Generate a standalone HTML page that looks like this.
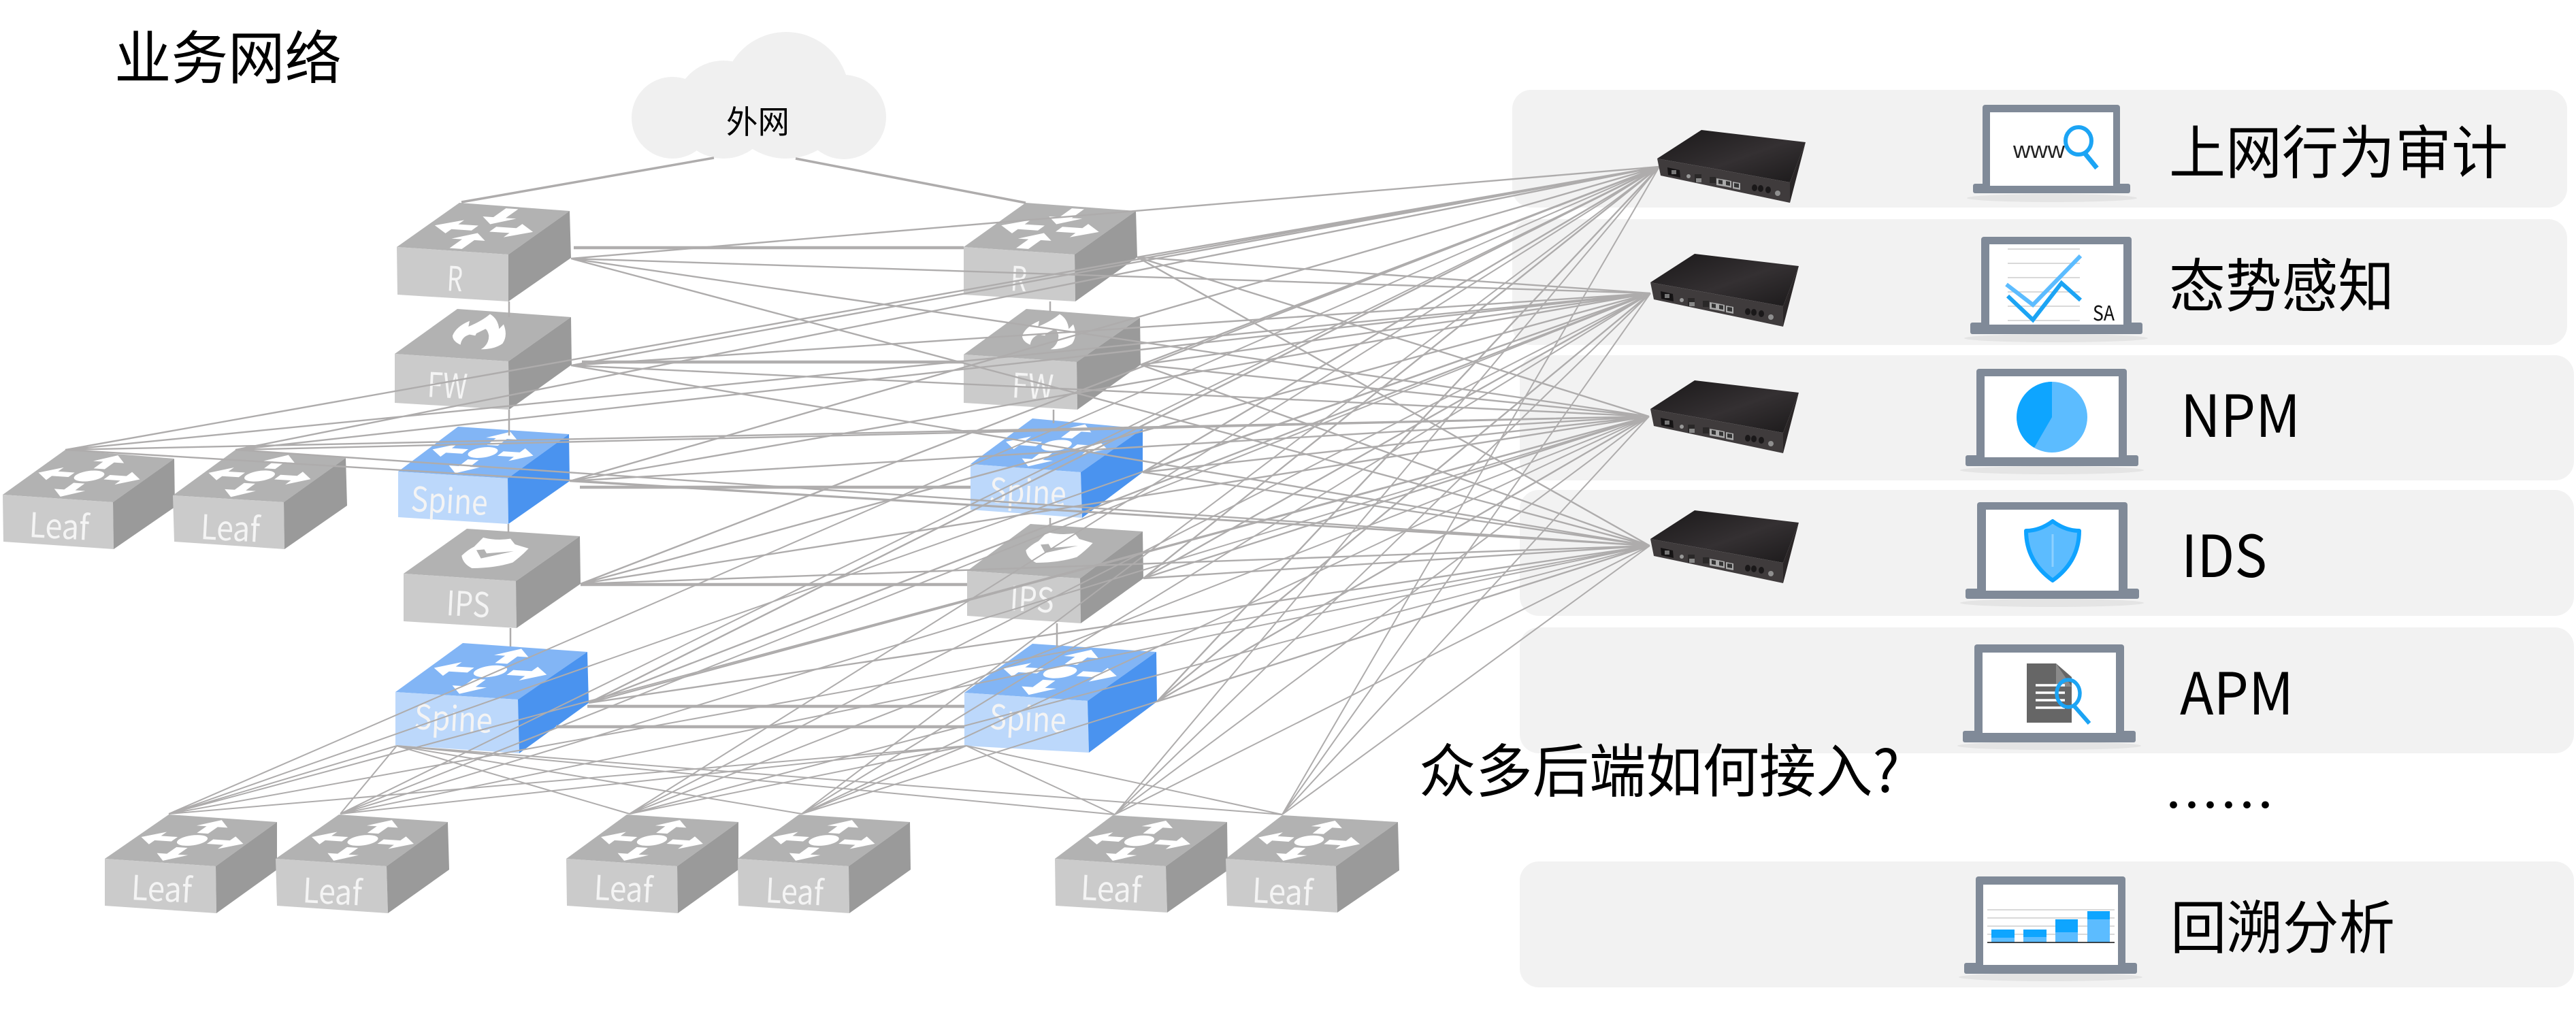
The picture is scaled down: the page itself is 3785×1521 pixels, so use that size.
<!DOCTYPE html>
<html><head><meta charset="utf-8"><style>
html,body{margin:0;padding:0;background:#fff}
svg{display:block}
text{font-family:"Liberation Sans","Noto Sans CJK SC",sans-serif}
.n{font-family:"Noto Sans CJK SC","Liberation Sans",sans-serif}
.t{fill:#b2b2b2}.f{fill:#cbcbcb}.r{fill:#9a9a9a}
.bt{fill:#82b5f5}.bf{fill:#bcd8fb}.br{fill:#4a93ef}
.w{fill:#f4f4f4;font-size:50px;font-family:"Noto Sans CJK SC","DejaVu Sans",sans-serif}
.b{fill:#000;font-size:85px;font-family:"Noto Sans CJK SC","Liberation Sans",sans-serif}
.fr{fill:#808a98}
</style></head><body>
<svg xmlns="http://www.w3.org/2000/svg" width="3785" height="1521" viewBox="0 0 3785 1521">
<defs>
<path id="a" d="M66,45L81,45L81,36L96,50L81,64L81,55L66,55Z" fill="#fff"/>
<path id="ar" d="M58,44.5L76,44.5L76,35L94,50L76,65L76,55.5L58,55.5Z" fill="#fff"/>
<path id="ai" d="M44.5,95L55.5,95L55.5,75L65,75L50,60L35,75L44.5,75Z" fill="#fff"/>
<g id="hub"><ellipse cx="50" cy="50" rx="12" ry="12" fill="#fff"/><use href="#a"/><use href="#a" transform="rotate(90 50 50)"/><use href="#a" transform="rotate(180 50 50)"/><use href="#a" transform="rotate(270 50 50)"/></g>
<g id="rt"><use href="#ar"/><use href="#ar" transform="rotate(180 50 50)"/><use href="#ai"/><use href="#ai" transform="rotate(180 50 50)"/></g>
<path id="flame" fill="#fff" d="M495,640Q510,600 570,575L565,600Q625,575 660,545Q695,565 700,610L720,590Q740,640 715,675Q680,700 620,700Q655,680 655,640Q650,615 640,610L600,630L595,640L570,635Q535,645 530,680Q495,665 495,640Z"/>
<g id="shield"><path fill="#fff" d="M415,650Q440,625 470,610L510,570Q570,585 630,575L650,600L710,618Q680,650 640,680Q560,705 460,705Q420,685 415,650Z"/><path fill="#b2b2b2" d="M480,625L515,622L525,640L645,630L500,662Z"/></g>
<linearGradient id="apt" x1="0" y1="0" x2="1" y2="1"><stop offset="0" stop-color="#1a1819"/><stop offset=".55" stop-color="#343032"/><stop offset="1" stop-color="#1c1a1b"/></linearGradient>
<g id="app">
<polygon points="2435,233 2500,191 2653,209 2630,268" fill="url(#apt)"/>
<polygon points="2435,233 2630,268 2630,298 2440,258" fill="#3f3b3c"/>
<polygon points="2653,209 2630,268 2630,298" fill="#2a2627"/>
<polygon points="2450,246 2468,250 2469,261 2451,257" fill="#151314"/>
<rect x="2456" y="250" width="7" height="6" fill="#777"/>
<circle cx="2481" cy="259" r="3" fill="#999"/><rect x="2490" y="256" width="10" height="12" fill="#2a2828"/><rect x="2492" y="262" width="8" height="6" fill="#888"/>
<rect x="2512" y="260" width="9" height="9" fill="#2a2828"/>
<polygon points="2522,262 2534,264 2534,274 2522,272" fill="#aaa"/><polygon points="2525,264 2531,265 2531,271 2525,270" fill="#333"/>
<polygon points="2534,264 2544,266 2544,276 2534,274" fill="#aaa"/><polygon points="2536,266 2542,267 2542,273 2536,272" fill="#333"/>
<polygon points="2546,267 2557,269 2557,279 2546,277" fill="#aaa"/><polygon points="2548,269 2555,270 2555,276 2548,275" fill="#333"/>
<ellipse cx="2578" cy="276" rx="4" ry="5" fill="#1a1819"/><ellipse cx="2587" cy="277" rx="4" ry="5" fill="#1a1819"/><ellipse cx="2598" cy="279" rx="4" ry="5" fill="#1a1819"/>
<circle cx="2612" cy="284" r="4" fill="#8f8f8f"/>
</g>
</defs>

<!-- panels -->
<g fill="#f2f2f2">
<rect x="2222" y="132" width="1550" height="173" rx="28"/>
<rect x="2222" y="322" width="1550" height="185" rx="28"/>
<rect x="2233" y="522" width="1549" height="184" rx="28"/>
<rect x="2233" y="720" width="1549" height="185" rx="28"/>
<rect x="2233" y="922" width="1549" height="185" rx="28"/>
<rect x="2233" y="1266" width="1549" height="185" rx="28"/>
</g>

<!-- cloud -->
<g fill="#f0f0f0">
<circle cx="988" cy="173" r="60"/><circle cx="1063" cy="161" r="72"/><circle cx="1155" cy="140" r="93"/><circle cx="1240" cy="172" r="62"/><rect x="990" y="140" width="250" height="60"/>
</g>

<!-- devices -->
<g>
<polygon class="t" points="583,363 675,298 837,310 747,374"/><polygon class="f" points="583,363 747,374 747,443 584,433"/><polygon class="r" points="747,374 837,310 839,379 747,443"/>
<polygon class="t" points="580,520 672,454 839,466 747,531"/><polygon class="f" points="580,520 747,531 748,602 580,592"/><polygon class="r" points="747,531 839,466 840,536 748,602"/>
<polygon class="bt" points="585,693 673,627 836,638 746,703"/><polygon class="bf" points="585,693 746,703 747,770 585,760"/><polygon class="br" points="746,703 836,638 837,707 747,770"/>
<polygon class="t" points="593,843 686,777 852,788 758,854"/><polygon class="f" points="593,843 758,854 759,923 593,913"/><polygon class="r" points="758,854 852,788 853,858 759,923"/>
<polygon class="bt" points="581,1017 680,945 863,958 761,1028"/><polygon class="bf" points="581,1017 761,1028 763,1107 581,1095"/><polygon class="br" points="761,1028 863,958 865,1033 763,1107"/>

<polygon class="t" points="1416,363 1507,298 1669,310 1579,374"/><polygon class="f" points="1416,363 1579,374 1580,443 1416,433"/><polygon class="r" points="1579,374 1669,310 1671,378 1580,443"/>
<polygon class="t" points="1416,521 1508,454 1675,467 1582,532"/><polygon class="f" points="1416,521 1582,532 1583,602 1416,592"/><polygon class="r" points="1582,532 1675,467 1676,536 1583,602"/>
<polygon class="bt" points="1426,682 1517,615 1679,630 1588,694"/><polygon class="bf" points="1426,682 1588,694 1590,761 1426,749"/><polygon class="br" points="1588,694 1679,630 1679,694 1590,761"/>
<polygon class="t" points="1421,839 1514,770 1679,781 1587,850"/><polygon class="f" points="1421,839 1587,850 1588,916 1421,905"/><polygon class="r" points="1587,850 1679,781 1680,850 1588,916"/>
<polygon class="bt" points="1417,1018 1517,946 1699,958 1598,1030"/><polygon class="bf" points="1417,1018 1598,1030 1600,1106 1417,1096"/><polygon class="br" points="1598,1030 1699,958 1700,1031 1600,1106"/>

<polygon class="t" points="4,727 96,661 256,674 166,738"/><polygon class="f" points="4,727 166,738 167,807 5,796"/><polygon class="r" points="166,738 256,674 257,745 167,807"/>
<polygon class="t" points="254,728 346,661 508,673 417,738"/><polygon class="f" points="254,728 417,738 418,807 256,796"/><polygon class="r" points="417,738 508,673 510,743 418,807"/>

<polygon class="t" points="154,1262 248,1197 407,1208 317,1273"/><polygon class="f" points="154,1262 317,1273 318,1342 154,1331"/><polygon class="r" points="317,1273 407,1208 407,1278 318,1342"/>
<polygon class="t" points="405,1262 498,1197 658,1208 568,1273"/><polygon class="f" points="405,1262 568,1273 570,1342 407,1331"/><polygon class="r" points="568,1273 658,1208 660,1278 570,1342"/>
<polygon class="t" points="832,1262 921,1197 1085,1208 995,1273"/><polygon class="f" points="832,1262 995,1273 996,1342 833,1331"/><polygon class="r" points="995,1273 1085,1208 1085,1278 996,1342"/>
<polygon class="t" points="1084,1262 1174,1197 1337,1208 1247,1273"/><polygon class="f" points="1084,1262 1247,1273 1248,1342 1085,1331"/><polygon class="r" points="1247,1273 1337,1208 1338,1278 1248,1342"/>
<polygon class="t" points="1550,1262 1635,1198 1803,1208 1713,1273"/><polygon class="f" points="1550,1262 1713,1273 1715,1341 1551,1331"/><polygon class="r" points="1713,1273 1803,1208 1804,1279 1715,1341"/>
<polygon class="t" points="1801,1262 1884,1198 2054,1208 1963,1273"/><polygon class="f" points="1801,1262 1963,1273 1965,1341 1803,1331"/><polygon class="r" points="1963,1273 2054,1208 2056,1279 1965,1341"/>
</g>

<!-- icons on box tops -->
<use href="#rt" transform="matrix(1.64,.11,.92,-.65,583,363)"/>
<use href="#rt" transform="matrix(1.63,.11,.91,-.65,1416,363)"/>
<use href="#hub" transform="matrix(1.61,.10,.88,-.66,585,693)"/>
<use href="#hub" transform="matrix(1.62,.12,.91,-.67,1426,682)"/>
<use href="#hub" transform="matrix(1.80,.11,.99,-.72,581,1017)"/>
<use href="#hub" transform="matrix(1.81,.12,1,-.72,1417,1018)"/>
<use href="#hub" transform="matrix(1.62,.11,.92,-.66,4,727)"/>
<use href="#hub" transform="matrix(1.63,.10,.92,-.67,254,728)"/>
<use href="#hub" transform="matrix(1.63,.11,.94,-.65,154,1262)"/>
<use href="#hub" transform="matrix(1.63,.11,.93,-.65,405,1262)"/>
<use href="#hub" transform="matrix(1.63,.11,.89,-.65,832,1262)"/>
<use href="#hub" transform="matrix(1.63,.11,.90,-.65,1084,1262)"/>
<use href="#hub" transform="matrix(1.63,.11,.85,-.64,1550,1262)"/>
<use href="#hub" transform="matrix(1.62,.11,.83,-.64,1801,1262)"/>
<use href="#flame" transform="translate(500,280) scale(.3333)"/>
<use href="#flame" transform="translate(1337,280) scale(.3333)"/>
<use href="#shield" transform="translate(540,600) scale(.3333)"/>
<use href="#shield" transform="translate(1369,592) scale(.3333)"/>

<!-- box labels -->
<g>
<text class="w" x="656" y="427" textLength="23" lengthAdjust="spacingAndGlyphs" transform="rotate(3 656 427)">R</text>
<text class="w" x="1484" y="427" textLength="24" lengthAdjust="spacingAndGlyphs" transform="rotate(3 1484 427)">R</text>
<text class="w" x="627" y="583" textLength="59" lengthAdjust="spacingAndGlyphs" transform="rotate(3 627 583)">FW</text>
<text class="w" x="1486" y="584" textLength="61" lengthAdjust="spacingAndGlyphs" transform="rotate(3 1486 584)">FW</text>
<text class="w" x="603" y="751" textLength="113" lengthAdjust="spacingAndGlyphs" transform="rotate(3 603 751)">Spine</text>
<text class="w" x="1453" y="738" textLength="113" lengthAdjust="spacingAndGlyphs" transform="rotate(3 1453 738)">Spine</text>
<text class="w" x="655" y="904" textLength="64" lengthAdjust="spacingAndGlyphs" transform="rotate(3 655 904)">IPS</text>
<text class="w" x="1483" y="897" textLength="65" lengthAdjust="spacingAndGlyphs" transform="rotate(3 1483 897)">IPS</text>
<text class="w" x="608" y="1071" textLength="115" lengthAdjust="spacingAndGlyphs" transform="rotate(3 608 1071)">Spine</text>
<text class="w" x="1453" y="1071" textLength="113" lengthAdjust="spacingAndGlyphs" transform="rotate(3 1453 1071)">Spine</text>
<text class="w" x="42" y="789" textLength="88" lengthAdjust="spacingAndGlyphs" transform="rotate(3 42 789)">Leaf</text>
<text class="w" x="294" y="792" textLength="87" lengthAdjust="spacingAndGlyphs" transform="rotate(3 294 792)">Leaf</text>
<text class="w" x="192" y="1322" textLength="89" lengthAdjust="spacingAndGlyphs" transform="rotate(3 192 1322)">Leaf</text>
<text class="w" x="444" y="1326" textLength="87" lengthAdjust="spacingAndGlyphs" transform="rotate(3 444 1326)">Leaf</text>
<text class="w" x="872" y="1322" textLength="86" lengthAdjust="spacingAndGlyphs" transform="rotate(3 872 1322)">Leaf</text>
<text class="w" x="1124" y="1326" textLength="85" lengthAdjust="spacingAndGlyphs" transform="rotate(3 1124 1326)">Leaf</text>
<text class="w" x="1587" y="1322" textLength="89" lengthAdjust="spacingAndGlyphs" transform="rotate(3 1587 1322)">Leaf</text>
<text class="w" x="1839" y="1326" textLength="89" lengthAdjust="spacingAndGlyphs" transform="rotate(3 1839 1326)">Leaf</text>
</g>

<!-- vertical and cloud links -->
<g stroke="#aeacac" stroke-width="2.5" fill="none">
<path d="M748,443V466M748,602V640M747,770V783M750,923V950M1543,443V458M1548,602V622M1543,761V775M1553,916V950"/>
<path d="M1049,232L678,297M1169,233L1507,298" stroke-width="3.5"/>
</g>
<!-- horizontal links -->
<g stroke="#b0aeae" stroke-width="4.5" fill="none">
<path d="M843,364H1416M855,532H1416M852,716H1426M853,859H1421M863,1038H1417M817,1068H1417"/>
</g>
<!-- fan lines: core devices -->
<path fill="none" stroke="#aeacac" stroke-width="2.4" d="
M839,380L2438,245M839,380L2425,431M839,380L2423,612M839,380L2424,802
M1671,378L2438,245M1671,378L2425,431M1671,378L2423,612M1671,378L2424,802
M839,537L2438,245M839,537L2425,431M839,537L2423,612M839,537L2424,802
M1676,536L2438,245M1676,536L2425,431M1676,536L2423,612M1676,536L2424,802
M837,707L2438,245M837,707L2425,431M837,707L2423,612M837,707L2424,802
M1679,694L2438,245M1679,694L2425,431M1679,694L2423,612M1679,694L2424,802
M853,858L2438,245M853,858L2425,431M853,858L2423,612M853,858L2424,802
M1680,850L2438,245M1680,850L2425,431M1680,850L2423,612M1680,850L2424,802
M865,1033L2438,245M865,1033L2425,431M865,1033L2423,612M865,1033L2424,802
M1700,1031L2438,245M1700,1031L2425,431M1700,1031L2423,612M1700,1031L2424,802
M96,661L2438,245M96,661L2425,431M96,661L2423,612M96,661L2424,802
M346,661L2438,245M346,661L2425,431M346,661L2423,612M346,661L2424,802"/>
<!-- fan lines: bottom leaves -->
<path fill="none" stroke="#aeacac" stroke-width="2" d="
M248,1196L2438,245M248,1196L2425,431M248,1196L2423,612M248,1196L2424,802
M500,1196L2438,245M500,1196L2425,431M500,1196L2423,612M500,1196L2424,802
M925,1196L2438,245M925,1196L2425,431M925,1196L2423,612M925,1196L2424,802
M1178,1196L2438,245M1178,1196L2425,431M1178,1196L2423,612M1178,1196L2424,802
M1638,1197L2438,245M1638,1197L2425,431M1638,1197L2423,612M1638,1197L2424,802
M1884,1197L2438,245M1884,1197L2425,431M1884,1197L2423,612M1884,1197L2424,802
M583,1096L248,1196M583,1096L500,1196M583,1096L925,1196M583,1096L1178,1196M583,1096L1638,1197M583,1096L1884,1197
M1420,1096L248,1196M1420,1096L500,1196M1420,1096L925,1196M1420,1096L1178,1196M1420,1096L1638,1197M1420,1096L1884,1197"/>

<!-- appliances -->
<use href="#app"/>
<use href="#app" transform="translate(-10,182)"/>
<use href="#app" transform="translate(-10,368)"/>
<use href="#app" transform="translate(-10,559)"/>

<!-- monitors -->
<g>
<ellipse cx="3015" cy="291" rx="125" ry="6" fill="#e4e4e4"/>
<rect class="fr" x="2913" y="154" width="202" height="125" rx="4"/><rect class="fr" x="2899" y="270" width="231" height="14" rx="3"/><rect x="2924" y="165" width="181" height="108" fill="#fff"/>
<ellipse cx="3021" cy="497" rx="135" ry="6" fill="#e4e4e4"/>
<rect class="fr" x="2911" y="348" width="221" height="135" rx="4"/><rect class="fr" x="2895" y="474" width="253" height="17" rx="3"/><rect x="2923" y="359" width="197" height="118" fill="#fff"/>
<ellipse cx="3015" cy="691" rx="135" ry="6" fill="#e4e4e4"/>
<rect class="fr" x="2904" y="542" width="221" height="135" rx="4"/><rect class="fr" x="2888" y="669" width="254" height="16" rx="3"/><rect x="2916" y="553" width="197" height="119" fill="#fff"/>
<ellipse cx="3015" cy="886" rx="135" ry="6" fill="#e4e4e4"/>
<rect class="fr" x="2905" y="738" width="221" height="135" rx="4"/><rect class="fr" x="2888" y="865" width="255" height="15" rx="3"/><rect x="2918" y="749" width="195" height="119" fill="#fff"/>
<ellipse cx="3011" cy="1096" rx="135" ry="6" fill="#e4e4e4"/>
<rect class="fr" x="2901" y="947" width="220" height="135" rx="4"/><rect class="fr" x="2884" y="1074" width="254" height="17" rx="3"/><rect x="2913" y="959" width="196" height="118" fill="#fff"/>
<ellipse cx="3013" cy="1436" rx="135" ry="6" fill="#e4e4e4"/>
<rect class="fr" x="2903" y="1288" width="220" height="135" rx="4"/><rect class="fr" x="2886" y="1415" width="254" height="16" rx="3"/><rect x="2914" y="1300" width="198" height="118" fill="#fff"/>
</g>

<!-- icon 1 -->
<text x="2958" y="232" font-size="34" textLength="76" lengthAdjust="spacingAndGlyphs" fill="#222">www</text>
<ellipse cx="3054" cy="207" rx="19" ry="20" fill="none" stroke="#1ca4f4" stroke-width="6"/>
<path d="M3063,225L3081,247" stroke="#1ca4f4" stroke-width="7" fill="none"/>
<!-- icon 2 -->
<path d="M2950,366H3056M2950,387H3056M2950,408H3056M2950,429H3056M2950,450H3056M2950,471H3056" stroke="#d9d9d9" stroke-width="2" fill="none"/>
<polyline points="2948,418 2987,448 3022,412 3057,376" fill="none" stroke="#5cbcff" stroke-width="6"/>
<polyline points="2950,435 2987,470 3029,416 3057,441" fill="none" stroke="#1ca4f4" stroke-width="6"/>
<text x="3075" y="471" font-size="30" textLength="32" lengthAdjust="spacingAndGlyphs" fill="#111" class="n">SA</text>
<!-- icon 3 -->
<circle cx="3015" cy="613" r="52" fill="#5cbcff"/>
<path d="M3015,613L3015,561A52,52 0 0 0 2989,658Z" fill="#0ea5ff"/>
<!-- icon 4 shield -->
<path d="M3016,766Q3035,780 3055,780Q3055,825 3016,853Q2977,825 2977,780Q2997,780 3016,766Z" fill="#5cbcff" stroke="#0fa3ff" stroke-width="6" stroke-linejoin="round"/>
<path d="M3016,785V833" stroke="#8dd0ff" stroke-width="3"/>
<!-- icon 5 doc -->
<polygon points="2978,975 3021,975 3044,995 3044,1062 2978,1062" fill="#666"/>
<polygon points="3021,975 3044,1009 3021,1009" fill="#8a8a8a"/>
<path d="M2991,1007H3034M2991,1018H3034M2991,1029H3034M2991,1040H3034" stroke="#fff" stroke-width="3.5"/>
<ellipse cx="3039" cy="1019" rx="17" ry="20" fill="none" stroke="#1ca4f4" stroke-width="5.5"/>
<path d="M3048,1038L3070,1063" stroke="#1ca4f4" stroke-width="6"/>
<!-- icon 6 chart -->
<path d="M2920,1337H3107M2920,1349H3107M2920,1361H3107M2920,1373H3107" stroke="#d9d9d9" stroke-width="2"/>
<rect x="2926" y="1366" width="34" height="12" fill="#0ea5ff"/><rect x="2926" y="1378" width="34" height="7" fill="#5cbcff"/>
<rect x="2973" y="1366" width="34" height="11" fill="#0ea5ff"/><rect x="2973" y="1377" width="34" height="8" fill="#5cbcff"/>
<rect x="3020" y="1351" width="33" height="19" fill="#0ea5ff"/><rect x="3020" y="1370" width="33" height="15" fill="#5cbcff"/>
<rect x="3067" y="1339" width="33" height="12" fill="#0ea5ff"/><rect x="3067" y="1351" width="33" height="34" fill="#5cbcff"/>
<path d="M2920,1385H3107" stroke="#111" stroke-width="1.5"/>

<!-- big text -->
<text class="b" x="168" y="116" textLength="334" lengthAdjust="spacingAndGlyphs">业务网络</text>
<text class="n" x="1067" y="196" font-size="47" textLength="93" lengthAdjust="spacingAndGlyphs" fill="#000">外网</text>
<text class="b" x="3187" y="255" textLength="498" lengthAdjust="spacingAndGlyphs">上网行为审计</text>
<text class="b" x="3187" y="451" textLength="331" lengthAdjust="spacingAndGlyphs">态势感知</text>
<text class="b" x="3204" y="642" textLength="176" lengthAdjust="spacingAndGlyphs">NPM</text>
<text class="b" x="3205" y="848" textLength="126" lengthAdjust="spacingAndGlyphs">IDS</text>
<text class="b" x="3203" y="1050" textLength="167" lengthAdjust="spacingAndGlyphs">APM</text>
<text class="b" x="2085" y="1164" textLength="706" lengthAdjust="spacingAndGlyphs">众多后端如何接入?</text>
<text class="n" x="3180" y="1213" font-size="80" textLength="162" lengthAdjust="spacingAndGlyphs" fill="#000">……</text>
<text class="b" x="3189" y="1394" textLength="330" lengthAdjust="spacingAndGlyphs">回溯分析</text>
</svg>
</body></html>
